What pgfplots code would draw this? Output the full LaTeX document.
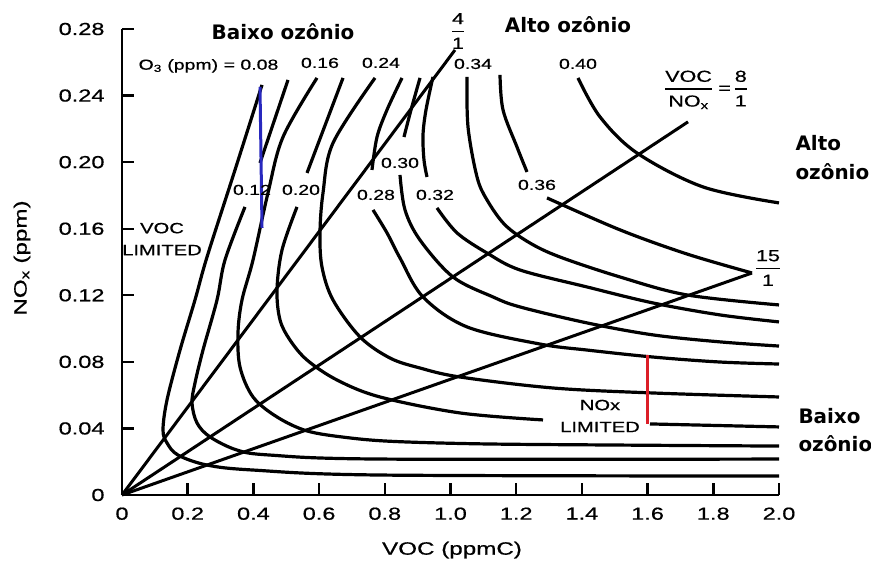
\documentclass[border=0pt]{standalone}
\usepackage{pgfplots}
\pgfplotsset{compat=1.18}
\usepackage{amsmath}
\usepackage{fontspec}
\setmainfont{Liberation Sans}[FakeStretch=1.35, FakeBold=0.6]
\newfontfamily\headfont{DejaVu Sans}
\definecolor{lineblue}{RGB}{40,40,190}
\definecolor{linered}{RGB}{220,30,40}
\tikzset{
  iso/.style={black, line width=3.2bp, smooth, tension=0.55},
  ratio/.style={black, line width=3bp},
}
\newcommand\lab{\fontsize{14.5}{16}\selectfont}
\newcommand\head{\headfont\bfseries\fontsize{20}{29}\selectfont}
\newcommand\vfrac[2]{$\genfrac{}{}{1.8pt}{0}{\text{#1}}{\text{#2}}$}
\begin{document}
\begin{tikzpicture}
\useasboundingbox (-122bp,-75bp) rectangle (749bp,495bp);
\begin{axis}[
  at={(0bp,0bp)}, anchor=south west,
  scale only axis, width=657bp, height=466bp,
  xmin=0, xmax=2, ymin=0, ymax=0.28,
  axis lines=left,
  axis line style={-, line width=2.6bp},
  x axis line style={-}, y axis line style={-},
  tick align=inside, major tick length=12bp,
  tick style={line width=2.4bp, black},
  xtick={0,0.2,0.4,0.6,0.8,1.0,1.2,1.4,1.6,1.8,2.0},
  xticklabels={0,0.2,0.4,0.6,0.8,1.0,1.2,1.4,1.6,1.8,2.0},
  ytick={0,0.04,0.08,0.12,0.16,0.2,0.24,0.28},
  yticklabels={0,0.04,0.08,0.12,0.16,0.20,0.24,0.28},
  tick label style={font=\fontsize{17.5}{20}\selectfont},
  xticklabel style={yshift=-9bp},
  yticklabel style={xshift=-14bp},
  clip=false,
]
% VOC/NOx ratio lines from the origin
\addplot[ratio] coordinates {(0,0) (1.0137,0.2674)};
\addplot[ratio] coordinates {(0,0) (1.7230,0.2242)};
\addplot[ratio] coordinates {(0,0) (1.9178,0.1334)};

% ozone isopleths (ppm)
% 0.08
\addplot[iso] coordinates {(0.4262,0.2464) (0.3440,0.1953) (0.2588,0.1430) (0.2222,0.1172) (0.1766,0.0871) (0.1370,0.0571) (0.1248,0.0391) (0.1370,0.0313) (0.1705,0.0240) (0.2588,0.0180) (0.3988,0.0150) (0.7854,0.0120) (2.0,0.0114)};
% 0.12
\addplot[iso] coordinates {(0.5053,0.2494) (0.4201,0.1995)};
\addplot[iso] coordinates {(0.3744,0.1731) (0.3135,0.1412) (0.2892,0.1172) (0.2466,0.0871) (0.2222,0.0673) (0.2131,0.0553) (0.2283,0.0433) (0.2679,0.0349) (0.3501,0.0270) (0.4505,0.0240) (0.7854,0.0216) (2.0,0.0216)};
% 0.16
\addplot[iso] coordinates {(0.5936,0.2506) (0.4901,0.2151) (0.4444,0.1815) (0.3988,0.1412) (0.3653,0.1172) (0.3531,0.0974) (0.3592,0.0769) (0.3988,0.0589) (0.4718,0.0469) (0.5632,0.0385) (0.6849,0.0345) (0.8250,0.0322) (1.1000,0.0307) (1.5160,0.0300) (2.0,0.0294)};
% 0.20
\addplot[iso] coordinates {(0.6728,0.2506) (0.5632,0.1935)};
\addplot[iso] coordinates {(0.5327,0.1731) (0.4871,0.1472) (0.4718,0.1232) (0.4810,0.1052) (0.5114,0.0931) (0.5632,0.0811) (0.6545,0.0691) (0.7854,0.0589) (1.0289,0.0493) (1.2816,0.0451)};
\addplot[iso] coordinates {(1.6073,0.0427) (2.0,0.0409)};
% 0.24
\addplot[iso] coordinates {(0.7702,0.2506) (0.6423,0.2115) (0.6119,0.1815) (0.6027,0.1575) (0.6088,0.1370) (0.6423,0.1172) (0.7245,0.0950) (0.8158,0.0823) (0.9072,0.0763) (1.0289,0.0709) (1.3120,0.0643) (1.6164,0.0613) (2.0,0.0589)};
% 0.28
\addplot[iso] coordinates {(0.8524,0.2506) (0.8067,0.2314) (0.7763,0.2151) (0.7610,0.1953)};
\addplot[iso] coordinates {(0.7641,0.1713) (0.8067,0.1575) (0.8463,0.1424) (0.9163,0.1190) (1.0502,0.1010) (1.2725,0.0907) (1.4155,0.0871) (1.6164,0.0829) (1.8204,0.0799) (2.0,0.0787)};
% 0.30
\addplot[iso] coordinates {(0.9072,0.2506) (0.8798,0.2314) (0.8584,0.2151)};
\addplot[iso] coordinates {(0.8463,0.1923) (0.8615,0.1713) (0.9072,0.1532) (1.0076,0.1310) (1.1294,0.1190) (1.2116,0.1130) (1.4155,0.1034) (1.6164,0.0962) (1.8204,0.0920) (2.0,0.0895)};
% 0.32
\addplot[iso] coordinates {(0.9467,0.2512) (0.9254,0.2314) (0.9163,0.2163) (0.9193,0.2013) (0.9285,0.1911)};
\addplot[iso] coordinates {(0.9589,0.1725) (1.0198,0.1575) (1.1111,0.1454) (1.2116,0.1352) (1.4155,0.1250) (1.6164,0.1154) (1.8204,0.1082) (2.0,0.1040)};
% 0.34
\addplot[iso] coordinates {(1.0502,0.2512) (1.0533,0.2212) (1.0807,0.1911) (1.1111,0.1773) (1.1659,0.1623) (1.2420,0.1514) (1.3333,0.1430) (1.5160,0.1310) (1.7199,0.1202) (2.0,0.1142)};
% 0.36
\addplot[iso] coordinates {(1.1507,0.2524) (1.1598,0.2314) (1.2024,0.2091) (1.2329,0.1941)};
\addplot[iso] coordinates {(1.2938,0.1785) (1.5160,0.1593) (1.7199,0.1448) (1.9178,0.1334)};
% 0.40
\addplot[iso] coordinates {(1.3881,0.2506) (1.4551,0.2272) (1.5677,0.2055) (1.7687,0.1851) (2.0,0.1755)};

% highlighted spans
\addplot[lineblue, line width=3bp] coordinates {(0.4201,0.2452) (0.4262,0.1605)};
\addplot[linered, line width=3bp] coordinates {(1.6012,0.0841) (1.6012,0.0427)};

% isopleth labels
\node[font=\lab] at (axis cs:0.2633,0.2578) {O\textsubscript{3} (ppm) = 0.08};
\node[font=\lab] at (axis cs:0.6027,0.2596) {0.16};
\node[font=\lab] at (axis cs:0.7884,0.2596) {0.24};
\node[font=\lab] at (axis cs:1.0685,0.2590) {0.34};
\node[font=\lab] at (axis cs:1.3881,0.2590) {0.40};
\node[font=\lab] at (axis cs:0.3957,0.1833) {0.12};
\node[font=\lab] at (axis cs:0.5449,0.1833) {0.20};
\node[font=\lab] at (axis cs:0.8463,0.1995) {0.30};
\node[font=\lab] at (axis cs:0.7732,0.1803) {0.28};
\node[font=\lab] at (axis cs:0.9528,0.1803) {0.32};
\node[font=\lab] at (axis cs:1.2633,0.1863) {0.36};

% regime labels
\node[font=\fontsize{15}{22}\selectfont, align=center] at (axis cs:0.1218,0.1538) {VOC\\LIMITED};
\node[font=\fontsize{15}{22}\selectfont, align=center, fill=white, inner sep=1bp] at (axis cs:1.4551,0.0475) {NOx\\LIMITED};

% ratio labels
\node[font=\fontsize{16}{18}\selectfont] at (axis cs:1.0228,0.2788) {\vfrac{4}{1}};
\node[font=\fontsize{16}{18}\selectfont] at (axis cs:1.7778,0.2434) {\vfrac{VOC}{NO\textsubscript{x}}\,\,=\,\vfrac{8}{1}};
\node[font=\fontsize{16}{18}\selectfont] at (axis cs:1.9665,0.1364) {\vfrac{15}{1}};

% ozone level annotations
\node[font=\head] at (axis cs:0.4901,0.2782) {Baixo ozônio};
\node[font=\head] at (axis cs:1.3577,0.2825) {Alto ozônio};
\node[font=\head, align=left, anchor=west] at (axis cs:2.0396,0.2025) {Alto\\ozônio};
\node[font=\head, align=left, anchor=west] at (axis cs:2.0487,0.0390) {Baixo\\ozônio};

% axis titles
\node[font=\fontsize{18}{20}\selectfont] at (axis cs:1.0046,-0.0331) {VOC (ppmC)};
\node[font=\fontsize{18}{20}\selectfont, rotate=90] at (axis cs:-0.3044,0.1424) {NO\textsubscript{x} (ppm)};
\end{axis}
\end{tikzpicture}
\end{document}
